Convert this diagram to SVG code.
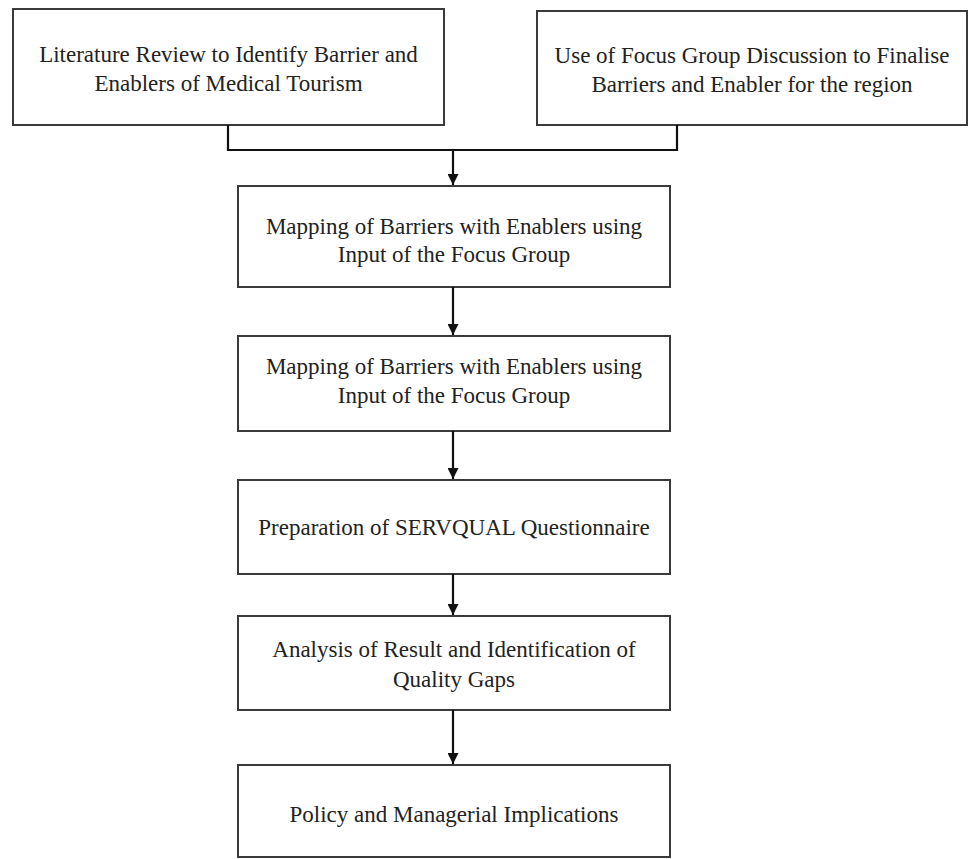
<svg xmlns="http://www.w3.org/2000/svg" width="968" height="859" viewBox="0 0 968 859">
<style>
.box{fill:#fff;stroke:#3a3a3a;stroke-width:2}
.t{font-family:"Liberation Serif","Times New Roman",serif;font-size:23px;fill:#222;text-anchor:middle}
.c{fill:none;stroke:#111;stroke-width:2.2}
</style>
<defs>
<marker id="ah" viewBox="0 0 10 10" refX="10" refY="5" markerWidth="5" markerHeight="5" orient="auto" markerUnits="strokeWidth">
<path d="M0,0 L10,5 L0,10 z" fill="#111"/>
</marker>
</defs>
<rect width="968" height="859" fill="#fff"/>
<g id="n1"><rect class="box" x="13" y="9" width="431" height="116"/>
<text class="t" x="228.5" y="62">Literature Review to Identify Barrier and</text>
<text class="t" x="228.5" y="91">Enablers of Medical Tourism</text></g>
<g id="n2"><rect class="box" x="537" y="11" width="430" height="114"/>
<text class="t" x="752" y="63">Use of Focus Group Discussion to Finalise</text>
<text class="t" x="752" y="92">Barriers and Enabler for the region</text></g>
<g id="n3"><rect class="box" x="238" y="186" width="432" height="101"/>
<text class="t" x="454" y="234">Mapping of Barriers with Enablers using</text>
<text class="t" x="454" y="262">Input of the Focus Group</text></g>
<g id="n4"><rect class="box" x="238" y="336" width="432" height="95"/>
<text class="t" x="454" y="374">Mapping of Barriers with Enablers using</text>
<text class="t" x="454" y="403">Input of the Focus Group</text></g>
<g id="n5"><rect class="box" x="238" y="480" width="432" height="94"/>
<text class="t" x="454" y="535">Preparation of SERVQUAL Questionnaire</text></g>
<g id="n6"><rect class="box" x="238" y="616" width="432" height="94"/>
<text class="t" x="454" y="657">Analysis of Result and Identification of</text>
<text class="t" x="454" y="687">Quality Gaps</text></g>
<g id="n7"><rect class="box" x="238" y="765" width="432" height="92"/>
<text class="t" x="454" y="822">Policy and Managerial Implications</text></g>
<g id="connectors">
<path class="c" d="M228,125 V150 H677 V125"/>
<path class="c" d="M453,150 V185" marker-end="url(#ah)"/>
<path class="c" d="M453,287 V335" marker-end="url(#ah)"/>
<path class="c" d="M453,431 V479" marker-end="url(#ah)"/>
<path class="c" d="M453,574 V615" marker-end="url(#ah)"/>
<path class="c" d="M453,710 V764" marker-end="url(#ah)"/>
</g>
</svg>
